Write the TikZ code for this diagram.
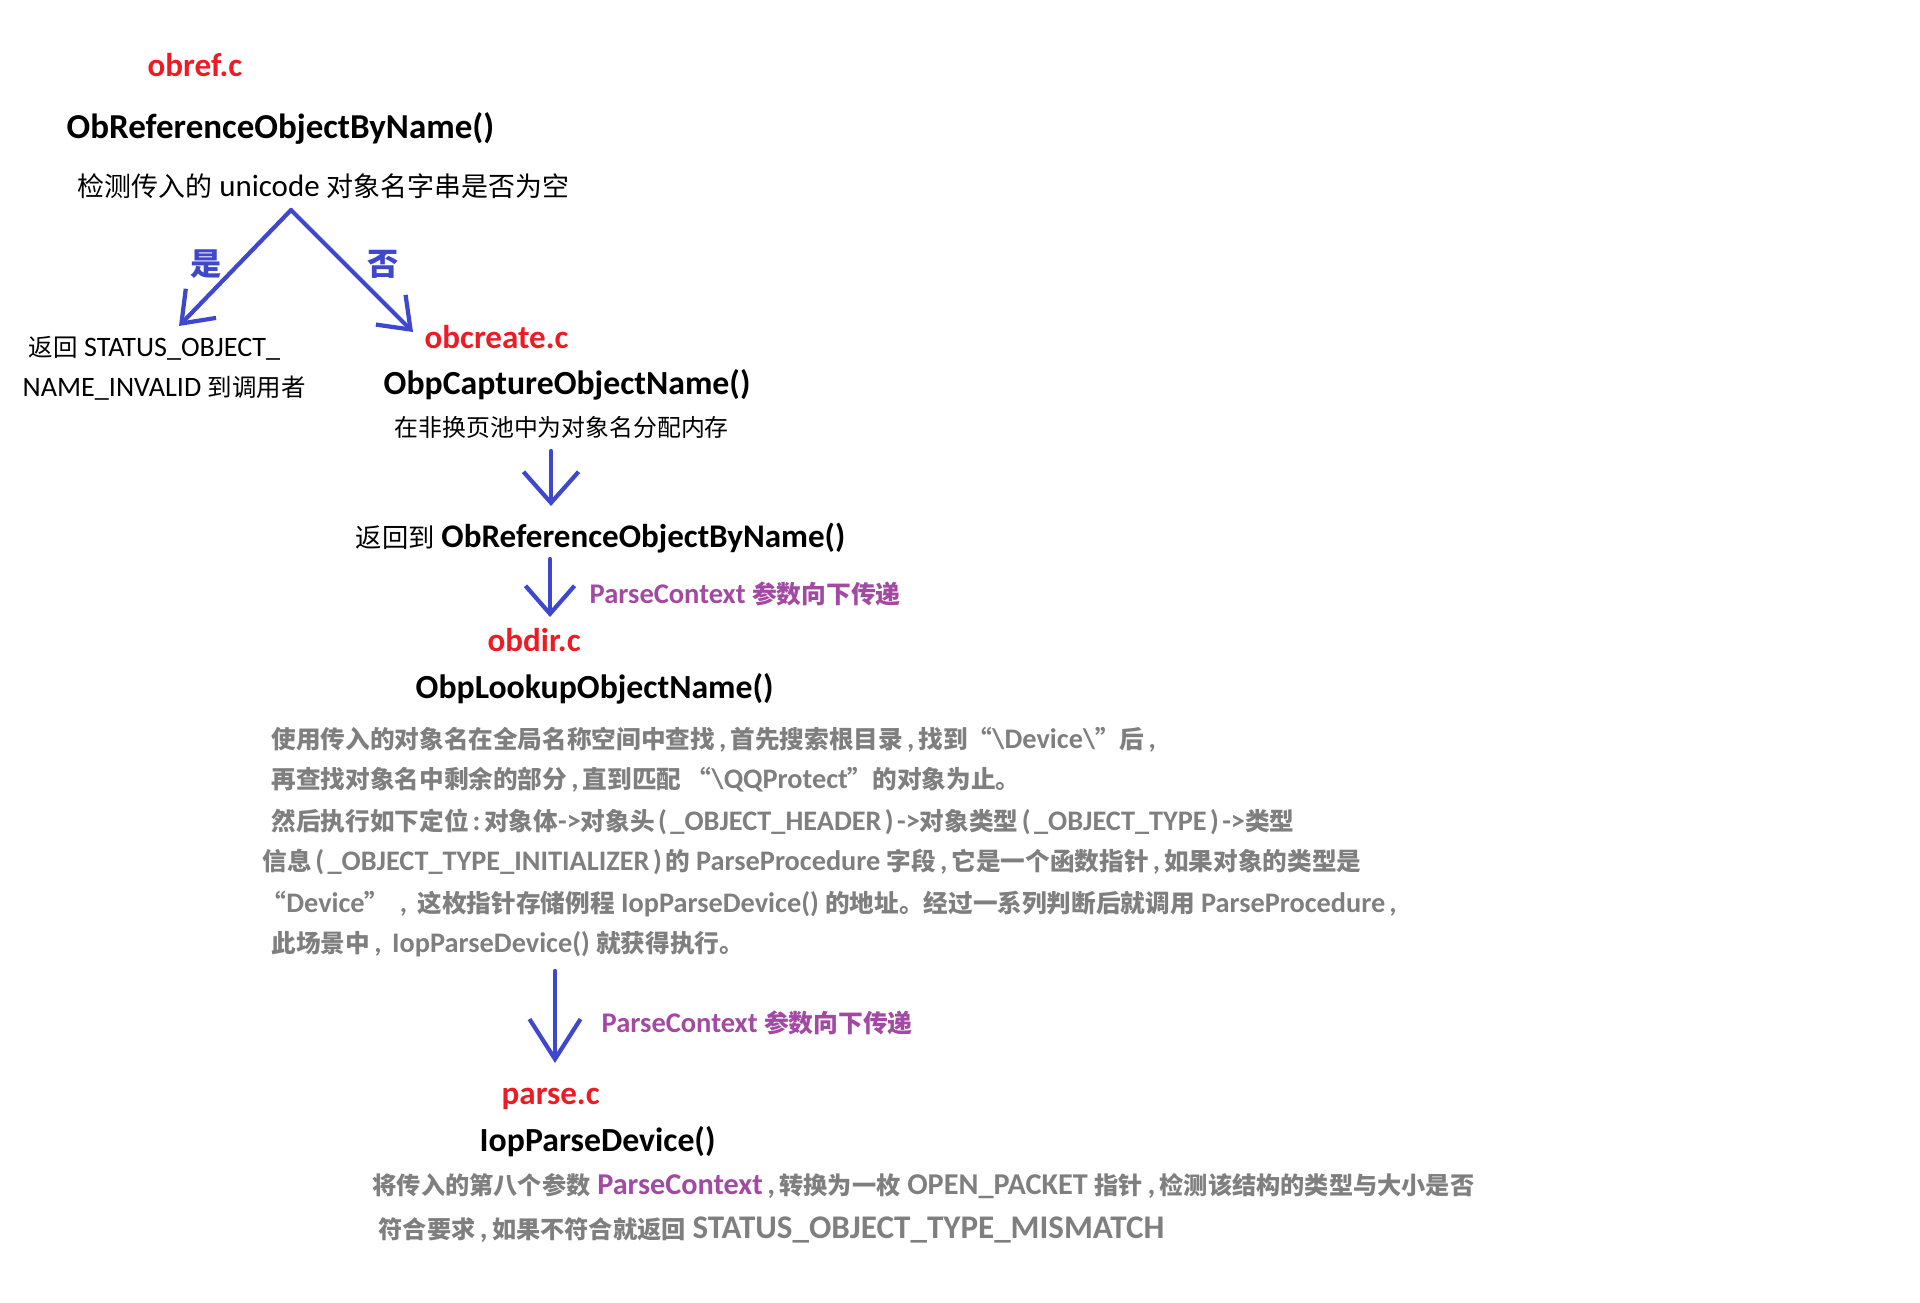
\documentclass[tikz,border=0pt]{standalone}
\usepackage{fontspec}
\setmainfont{Carlito}
\newfontfamily\cjk[Scale=0.87]{Noto Sans CJK SC}
\newfontfamily\cjksmall[Scale=0.8]{Noto Sans CJK SC}
\usetikzlibrary{arrows.meta}
\definecolor{filered}{RGB}{237,28,36}
\definecolor{arrowblue}{RGB}{63,72,204}
\definecolor{ctxpurple}{RGB}{163,73,164}
\definecolor{descgray}{RGB}{127,127,127}
\let\zhfont\cjk
\newcommand{\zh}[1]{{\zhfont #1}}
\newcommand{\cp}[1]{\hbox to 0.55em{\hss#1\hss}}
\newcommand{\ptsize}[1]{\fontsize{#1}{#1}\selectfont}
\tikzset{
  filename/.style={anchor=mid west,inner sep=0pt,text=filered,font=\bfseries\ptsize{9.4}},
  funcname/.style={anchor=mid west,inner sep=0pt,font=\bfseries\ptsize{9.6}},
  plaintext/.style={anchor=mid west,inner sep=0pt,font=\ptsize{8.8}},
  smalltext/.style={anchor=mid west,inner sep=0pt,font=\ptsize{8}},
  desctext/.style={anchor=mid west,inner sep=0pt,text=descgray,font=\bfseries\ptsize{8.05}},
  checktext/.style={anchor=mid west,inner sep=0pt,text=descgray,font=\bfseries\ptsize{8.6}\let\zhfont\cjksmall},
  ctxlabel/.style={anchor=mid west,inner sep=0pt,text=ctxpurple,font=\bfseries\ptsize{8.1}},
  choice/.style={inner sep=0pt,text=arrowblue,font=\bfseries\ptsize{10.2}},
  flowarrow/.style={line width=1.2pt,draw=arrowblue,line cap=round},
}

\begin{document}
\begin{tikzpicture}[x=0.01cm,y=-0.01cm,every node/.append style={yshift=-0.04cm}]
  \useasboundingbox (0,0) rectangle (1920,1303);
  % obref.c
  \node[filename] (obref) at (147,64) {obref.c};
  \node[funcname,font=\bfseries\ptsize{9.95}] (obrefname) at (66,126) {ObReferenceObjectByName()};
  \node[plaintext] (checkname) at (77,184) {\zh{检测传入的} unicode \zh{对象名字串是否为空}};
  \coordinate (split) at (291,206);
  \coordinate (yestip) at (179,322);
  \coordinate (notip) at (413,328);
  \node[choice] (yes) at (206,260) {\zh{是}};
  \node[choice] (no) at (383,260) {\zh{否}};
  \draw[flowarrow,-{Straight Barb[length=0.28cm,width=0.42cm]}] (split) -- (yestip);
  \draw[flowarrow,-{Straight Barb[length=0.28cm,width=0.42cm]}] (split) -- (notip);
  \node[smalltext] (retstatus) at (28,344) {\zh{返回} STATUS\_OBJECT\_};
  \node[smalltext] (retcaller) at (22,384) {NAME\_INVALID \zh{到调用者}};
  % obcreate.c
  \node[filename] (obcreate) at (424,336) {obcreate.c};
  \node[funcname] (capture) at (383,382) {ObpCaptureObjectName()};
  \node[anchor=mid west,inner sep=0pt,font=\ptsize{7.8}] (allocpool) at (394,424) {\zh{在非换页池中为对象名分配内存}};
  \coordinate (down1a) at (551,447);
  \coordinate (down1b) at (551,502);
  \draw[flowarrow,-{Straight Barb[length=0.31cm,width=0.55cm]}] (down1a) -- (down1b);
  \node[anchor=mid west,inner sep=0pt] (backto) at (355,535)
    {\ptsize{8.6}\zh{返回到} \bfseries\ptsize{9.4}ObReferenceObjectByName()};
  \coordinate (down2a) at (550,555);
  \coordinate (down2b) at (550,613);
  \draw[flowarrow,-{Straight Barb[length=0.28cm,width=0.49cm]}] (down2a) -- (down2b);
  \node[ctxlabel] (ctxdown) at (589,591) {ParseContext \zh{参数向下传递}};
  % obdir.c
  \node[filename] (obdir) at (487,639) {obdir.c};
  \node[funcname] (lookup) at (415,686) {ObpLookupObjectName()};
  \node[desctext] (desca) at (271,736) {\zh{使用传入的对象名在全局名称空间中查找}\cp{,}\zh{首先搜索根目录}\cp{,}\zh{找到“}\textbackslash Device\textbackslash\zh{”后}\cp{,}};
  \node[desctext] (descb) at (271,776) {\zh{再查找对象名中剩余的部分}\cp{,}\zh{直到匹配 “}\textbackslash QQProtect\zh{”的对象为止。}};
  \node[desctext] (descc) at (271,818) {\zh{然后执行如下定位}\cp{:}\zh{对象体}->\zh{对象头}\cp{(}\_OBJECT\_HEADER\cp{)}->\zh{对象类型}\cp{(}\_OBJECT\_TYPE\cp{)}->\zh{类型}};
  \node[desctext] (descd) at (262,858) {\zh{信息}\cp{(}\_OBJECT\_TYPE\_INITIALIZER\cp{)}\zh{的} ParseProcedure \zh{字段}\cp{,}\zh{它是一个函数指针}\cp{,}\zh{如果对象的类型是}};
  \node[desctext] (desce) at (261,900) {\zh{“}Device\zh{”} \cp{,} \zh{这枚指针存储例程} IopParseDevice() \zh{的地址。经过一系列判断后就调用} ParseProcedure\cp{,}};
  \node[desctext] (descf) at (271,940) {\zh{此场景中}\cp{,} IopParseDevice() \zh{就获得执行。}};
  \coordinate (down3a) at (555,967);
  \coordinate (down3b) at (555,1059);
  \draw[flowarrow,-{Straight Barb[length=0.4cm,width=0.51cm]}] (down3a) -- (down3b);
  \node[ctxlabel] (ctxdown2) at (601,1020) {ParseContext \zh{参数向下传递}};
  % parse.c
  \node[filename] (parse) at (501,1092) {parse.c};
  \node[funcname] (iopparse) at (479,1139) {IopParseDevice()};
  \node[checktext] (checka) at (372,1182) {\zh{将传入的第八个参数} \textcolor{ctxpurple}{ParseContext}\cp{,}\zh{转换为一枚} OPEN\_PACKET \zh{指针}\cp{,}\zh{检测该结构的类型与大小是否}};
  \node[checktext] (checkb) at (378,1226) {\zh{符合要求}\cp{,}\zh{如果不符合就返回} {\ptsize{9.4}STATUS\_OBJECT\_TYPE\_MISMATCH}};
\end{tikzpicture}
\end{document}
